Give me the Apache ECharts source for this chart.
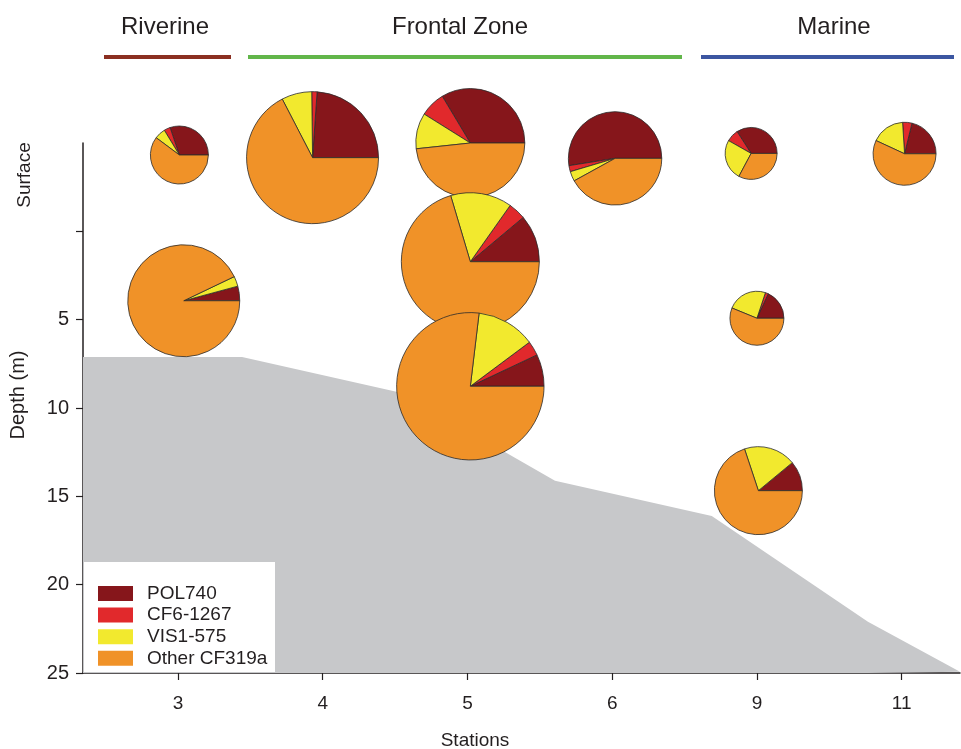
<!DOCTYPE html>
<html>
<head>
<meta charset="utf-8">
<script src="https://cdn.jsdelivr.net/npm/echarts@6/dist/echarts.min.js"></script>
<style>
  html, body { margin: 0; padding: 0; background: #fff; }
  #chart { width: 961px; height: 749px; }
</style>
</head>
<body>
<div id="chart"></div>
<script>
// Stations along the transect (axis positions 0..5)
const stations = ['3', '4', '5', '6', '9', '11'];
const depthTicks = [0, 5, 10, 15, 20, 25];
const depthLabels = [5, 10, 15, 20, 25];

// Water-mass zones drawn above the plot
const zones = ['Riverine', 'Frontal Zone', 'Marine'];
const zoneColors = ['#8b2f21', '#62b64a', '#3c56a1'];

// Clade groups (legend order)
const groups = ['POL740', 'CF6-1267', 'VIS1-575', 'Other CF319a'];
const groupColors = ['#86161b', '#e1292c', '#f2e92e', '#f09228'];

// One sample per pie: station position, plotted depth (m), pie radius (px)
const sampleX = [0.01, 0.93, 2.02, 3.02, 3.96, 5.02, 0.04, 2.02, 2.02, 4.0, 4.01];
const sampleDepth = [-4.32, -4.17, -5.0, -4.13, -4.41, -4.39, 3.93, 1.72, 8.77, 4.92, 14.68];
const sampleRadius = [29, 66, 54.5, 46.7, 26, 31.5, 56, 69, 73.7, 27, 44];

// Relative contribution of each group (%)
const pol740 = [30.2, 23.9, 33.6, 52.5, 34.1, 21.2, 4.2, 11.1, 7.0, 18.1, 11.0];
const cf6 = [3.5, 1.3, 7.5, 2.1, 7.7, 4.8, 0, 4.1, 3.2, 1.8, 0];
const vis1 = [6.1, 7.4, 10.6, 3.4, 25.4, 17.1, 2.9, 14.4, 12.9, 23.9, 19.1];
const otherCF = [60.2, 67.4, 48.3, 42.0, 32.8, 56.9, 92.9, 70.4, 76.9, 56.2, 69.9];

// Sea-floor profile: station position, depth (m)
const bottomX = [-0.656, 0.443, 1.548, 2.605, 3.688, 4.767, 5.403];
const bottomDepth = [7.11, 7.11, 9.15, 14.12, 16.11, 22.1, 24.93];

const shares = [pol740, cf6, vis1, otherCF];
const TEXT = '#231f20';
const FONT = 'Liberation Sans, Arial, sans-serif';

const chart = echarts.init(document.getElementById('chart'));

const pieSeries = groups.map((name, k) => {
  const data = sampleX.map((x, i) => {
    let start = 0;
    for (let j = 0; j < k; j++) start += shares[j][i];
    return [x, sampleDepth[i], sampleRadius[i], start, shares[k][i]];
  });
  return {
    name: name,
    type: 'custom',
    z: 3,
    clip: false,
    itemStyle: { color: groupColors[k] },
    encode: { x: 0, y: 1 },
    data: data,
    renderItem: function (params, api) {
      const pct = api.value(4);
      if (!(pct > 0)) return null;
      const c = api.coord([api.value(0), api.value(1)]);
      const a0 = api.value(3) / 100 * Math.PI * 2;
      const a1 = (api.value(3) + pct) / 100 * Math.PI * 2;
      return {
        type: 'sector',
        z2: params.dataIndex * 4 + k,
        shape: { cx: c[0], cy: c[1], r0: 0, r: api.value(2),
                 startAngle: -a0, endAngle: -a1, clockwise: false },
        style: { fill: groupColors[k], stroke: '#2b2b2b', lineWidth: 0.8 }
      };
    }
  };
});

const graphics = [];
// zone captions and coloured bars
const zoneSpan = [[104, 231], [248, 682], [701, 954]];
zones.forEach((z, i) => {
  const [x0, x1] = zoneSpan[i];
  graphics.push({
    type: 'rect', shape: { x: x0, y: 55, width: x1 - x0, height: 4 },
    style: { fill: zoneColors[i] }
  });
});
const zoneCenters = [165, 460, 834];
zones.forEach((z, i) => {
  graphics.push({
    type: 'text', x: zoneCenters[i], y: 27,
    style: { text: z, fill: TEXT, font: '24px ' + FONT, textAlign: 'center', textVerticalAlign: 'middle' }
  });
});
// rotated side labels
graphics.push({
  type: 'text', x: 25, y: 175, rotation: Math.PI / 2,
  style: { text: 'Surface', fill: TEXT, font: '19px ' + FONT, textAlign: 'center', textVerticalAlign: 'middle' }
});
graphics.push({
  type: 'text', x: 18, y: 395, rotation: Math.PI / 2,
  style: { text: 'Depth (m)', fill: TEXT, font: '20px ' + FONT, textAlign: 'center', textVerticalAlign: 'middle' }
});
graphics.push({
  type: 'text', x: 475, y: 741,
  style: { text: 'Stations', fill: TEXT, font: '19px ' + FONT, textAlign: 'center', textVerticalAlign: 'middle' }
});
// legend panel
graphics.push({
  type: 'rect', z: 5, shape: { x: 84, y: 562, width: 191, height: 110 },
  style: { fill: '#ffffff' }
});

chart.setOption({
  animation: false,
  backgroundColor: '#ffffff',
  grid: { left: 83, right: 1, top: 143, bottom: 76 },
  xAxis: {
    type: 'value', min: -0.656, max: 5.403,
    splitLine: { show: false },
    axisLine: { show: true, onZero: false, lineStyle: { color: TEXT, width: 1.5 } },
    axisTick: { show: true, customValues: [0, 1, 2, 3, 4, 5], length: 7, lineStyle: { color: TEXT, width: 1.2 } },
    axisLabel: {
      customValues: [0, 1, 2, 3, 4, 5],
      formatter: v => stations[Math.round(v)],
      color: TEXT, fontSize: 19, fontFamily: FONT, margin: 21
    }
  },
  yAxis: {
    type: 'value', inverse: true, min: -5, max: 25,
    splitLine: { show: false },
    axisLine: { show: true, onZero: false, lineStyle: { color: TEXT, width: 1.5 } },
    axisTick: { show: true, customValues: depthTicks, length: 7, lineStyle: { color: TEXT, width: 1.2 } },
    axisLabel: {
      customValues: depthLabels,
      color: TEXT, fontSize: 20, fontFamily: FONT, margin: 14
    }
  },
  legend: {
    orient: 'vertical', left: 98, top: 584, z: 10, padding: 0,
    itemWidth: 35, itemHeight: 15, itemGap: 2.6,
    icon: 'rect',
    selectedMode: false,
    data: groups,
    textStyle: { color: TEXT, fontSize: 19, fontFamily: FONT, padding: [0, 0, 0, 9] }
  },
  graphic: graphics,
  series: [
    {
      name: 'seafloor',
      type: 'line',
      z: 1,
      data: bottomX.map((x, i) => [x, bottomDepth[i]]),
      symbol: 'none',
      lineStyle: { width: 0 },
      areaStyle: { color: '#c7c8ca', opacity: 1, origin: 'end' },
      silent: true
    }
  ].concat(pieSeries)
});
</script>
</body>
</html>
